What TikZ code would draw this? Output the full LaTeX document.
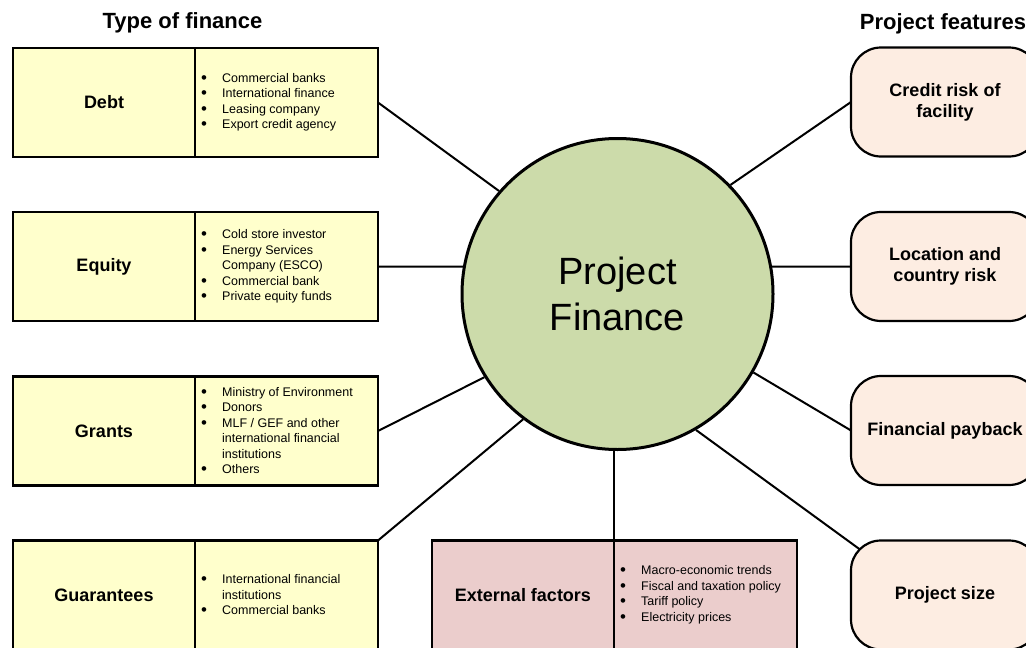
\documentclass[tikz,border=0pt]{standalone}
\usepackage{fontspec}
\setmainfont{Liberation Sans}
\usetikzlibrary{calc}
\definecolor{boxyellow}{HTML}{FFFFCC}
\definecolor{circgreen}{HTML}{CCDBAA}
\definecolor{extpink}{HTML}{EBCDCC}
\definecolor{featpeach}{HTML}{FDEDE2}
\newcommand\bitem[1]{\makebox[21pt][l]{\raisebox{-0.12ex}{\scalebox{1.35}{\textbullet}}}#1}
\newcommand\bcont[1]{\hspace*{21pt}#1}
\begin{document}
\begin{tikzpicture}[x=1pt,y=-1pt,
  lcell/.style={draw=black, line width=2.2pt, minimum width=182pt, minimum height=109pt,
    inner sep=0pt, outer sep=0pt, font=\fontsize{18}{21}\selectfont\bfseries, align=center},
  rcell/.style={draw=black, line width=2.2pt, minimum width=183pt, minimum height=109pt,
    inner sep=0pt, outer sep=0pt},
  listtext/.style={font=\fontsize{12.5}{15.5}\selectfont, align=left, anchor=west, inner sep=0pt},
  feat/.style={draw=black, line width=2.2pt, fill=featpeach, rounded corners=30pt,
    minimum width=188pt, minimum height=109pt, inner sep=0pt, outer sep=0pt,
    font=\fontsize{18}{21}\selectfont\bfseries, align=center},
  conn/.style={draw=black, line width=2pt},
  title/.style={font=\fontsize{22}{26}\selectfont\bfseries, anchor=base, inner sep=0pt}
]
\clip (0,0) rectangle (1026,648);
\fill[white] (0,0) rectangle (1026,648);

% titles
\node[title] (t1) at (182.5,28) {Type of finance};
\node[title] (t2) at (943,29) {Project features};

% central circle
\node[circle, draw=black, line width=3pt, fill=circgreen, minimum size=311pt, inner sep=0pt,
  font=\fontsize{38}{46}\selectfont, align=center] (pf) at (617.5,294) {Project\\Finance};

% left boxes
\node[lcell, fill=boxyellow] (debtL) at (104,102.5) {Debt};
\node[rcell, fill=boxyellow] (debtR) at (286.5,102.5) {};
\node[listtext] (debtT) at ($(debtR.west)+(6,0)$) {\bitem{Commercial banks}\\\bitem{International finance}\\\bitem{Leasing company}\\\bitem{Export credit agency}};

\node[lcell, fill=boxyellow] (eqL) at (104,266.5) {Equity};
\node[rcell, fill=boxyellow] (eqR) at (286.5,266.5) {};
\node[listtext] (eqT) at ($(eqR.west)+(6,0)$) {\bitem{Cold store investor}\\\bitem{Energy Services}\\\bcont{Company (ESCO)}\\\bitem{Commercial bank}\\\bitem{Private equity funds}};

\node[lcell, fill=boxyellow] (grL) at (104,431) {Grants};
\node[rcell, fill=boxyellow] (grR) at (286.5,431) {};
\node[listtext] (grT) at ($(grR.west)+(6,0)$) {\bitem{Ministry of Environment}\\\bitem{Donors}\\\bitem{MLF / GEF and other}\\\bcont{international financial}\\\bcont{institutions}\\\bitem{Others}};

\node[lcell, fill=boxyellow] (guL) at (104,595) {Guarantees};
\node[rcell, fill=boxyellow] (guR) at (286.5,595) {};
\node[listtext] (guT) at ($(guR.west)+(6,0)$) {\bitem{International financial}\\\bcont{institutions}\\\bitem{Commercial banks}};

% external factors
\node[lcell, fill=extpink] (exL) at (523,595) {External factors};
\node[rcell, fill=extpink] (exR) at (705.5,595) {};
\node[listtext] (exT) at ($(exR.west)+(6,0)$) {\bitem{Macro-economic trends}\\\bitem{Fiscal and taxation policy}\\\bitem{Tariff policy}\\\bitem{Electricity prices}};

% project features
\node[feat] (credit) at (945,102) {Credit risk of\\facility};
\node[feat] (loc) at (945,266.5) {Location and\\country risk};
\node[feat] (pay) at (945,430.5) {Financial payback};
\node[feat] (size) at (945,595) {Project size};

% connectors
\draw[conn] (debtR.east) -- (pf.139.5);
\draw[conn] (eqR.east) -- (pf.170);
\draw[conn] (grR.east) -- (pf.212);
\draw[conn] (guR.north east) -- (pf.233.6);
\draw[conn] (exR.north west) -- (exR.north west |- pf.south);
\draw[conn] (credit.west) -- (pf.44);
\draw[conn] (loc.west) -- (pf.10);
\draw[conn] (pay.west) -- (pf.-30);
\coordinate (sizecorner) at ($(size.north west)+(9,9)$);
\draw[conn] (sizecorner) -- (pf.-60);
\end{tikzpicture}
\end{document}
